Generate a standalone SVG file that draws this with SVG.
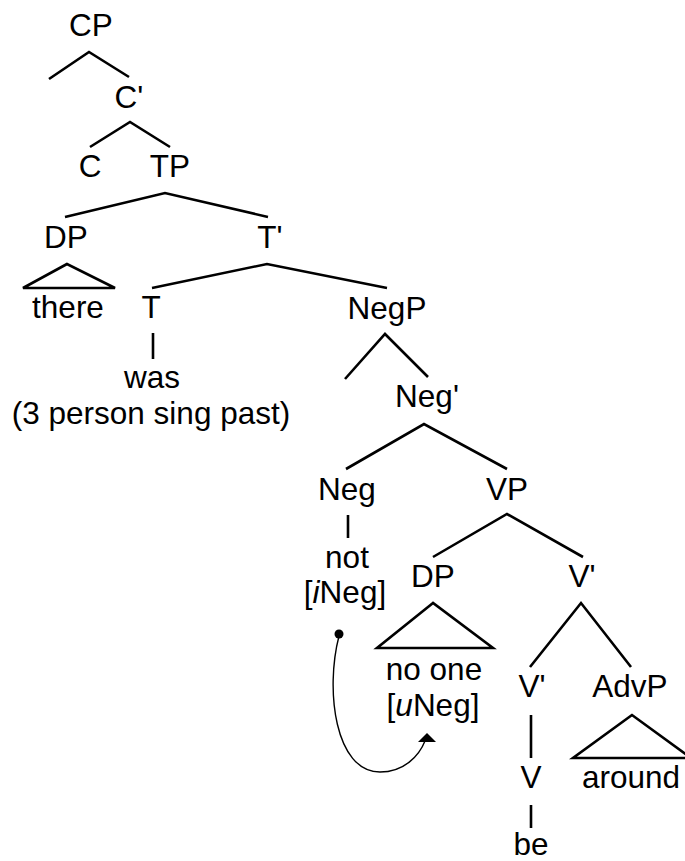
<svg xmlns="http://www.w3.org/2000/svg" width="685" height="861" viewBox="0 0 685 861">
<style>
text{font-family:"Liberation Sans",Arial,sans-serif;font-size:31.5px;fill:#000;text-anchor:middle}
.e{stroke:#000;stroke-width:2.6;fill:none;stroke-linecap:butt}
.tri{stroke:#000;stroke-width:2.6;fill:none;stroke-linejoin:miter}
.arc{stroke:#000;stroke-width:1.4;fill:none}
</style>
<rect width="685" height="861" fill="#fff"/>
<g id="connectors">
<polyline class="e" points="49,79 89,52 129,77"/>
<polyline class="e" points="90,147 130,122 170,147"/>
<polyline class="e" points="65,217 165,193 268,217"/>
<polyline class="e" points="152,288 267,264 387,288"/>
<line class="e" x1="153" y1="333" x2="153" y2="359"/>
<polyline class="e" points="345,379 385,334 428,377"/>
<polyline class="e" points="346,469 424,424 507,469"/>
<line class="e" x1="348" y1="515" x2="348" y2="538"/>
<polyline class="e" points="433,557 507,514 583,557"/>
<polyline class="e" points="530,667 581,603 631,667"/>
<line class="e" x1="531" y1="715" x2="531" y2="758"/>
<line class="e" x1="531" y1="805" x2="531" y2="828"/>
<path class="arc" d="M339,636 C325,690 335,772 380,772 C404,772 419,756 425,741"/>
<circle cx="339" cy="634" r="4.5" fill="#000"/>
<polygon points="427,733 418,742 436,742" fill="#000"/>
</g>
<g id="CP"><text x="91" y="36">CP</text></g>
<g id="Cbar"><text x="129" y="108">C'</text></g>
<g id="C"><text x="90" y="177">C</text></g>
<g id="TP"><text x="170" y="177">TP</text></g>
<g id="DP1"><text x="66" y="248">DP</text></g>
<g id="Tbar"><text x="270" y="248">T'</text></g>
<g id="there"><polygon class="tri" points="67,264 23,288 115,288"/><text x="68" y="318">there</text></g>
<g id="T"><text x="151" y="318">T</text></g>
<g id="was"><text x="152" y="388">was</text><text x="151" y="424">(3 person sing past)</text></g>
<g id="NegP"><text x="387" y="319">NegP</text></g>
<g id="Negbar"><text x="427" y="407">Neg'</text></g>
<g id="Neg"><text x="347" y="500">Neg</text></g>
<g id="VP"><text x="507" y="500">VP</text></g>
<g id="not"><text x="347" y="568">not</text><text x="345" y="603">[<tspan font-style="italic">i</tspan>Neg]</text></g>
<g id="DP2"><text x="433" y="587">DP</text></g>
<g id="Vbar1"><text x="582" y="587">V'</text></g>
<g id="noone"><polygon class="tri" points="433,603 377,648 493,648"/><text x="434" y="680">no one</text><text x="433" y="716">[<tspan font-style="italic">u</tspan>Neg]</text></g>
<g id="Vbar2"><text x="532" y="697">V'</text></g>
<g id="AdvP"><text x="630" y="697">AdvP</text></g>
<g id="V"><text x="531" y="788">V</text></g>
<g id="around"><polygon class="tri" points="632,715 573,758 691,758"/><text x="631" y="788">around</text></g>
<g id="be"><text x="531" y="855">be</text></g>
</svg>
